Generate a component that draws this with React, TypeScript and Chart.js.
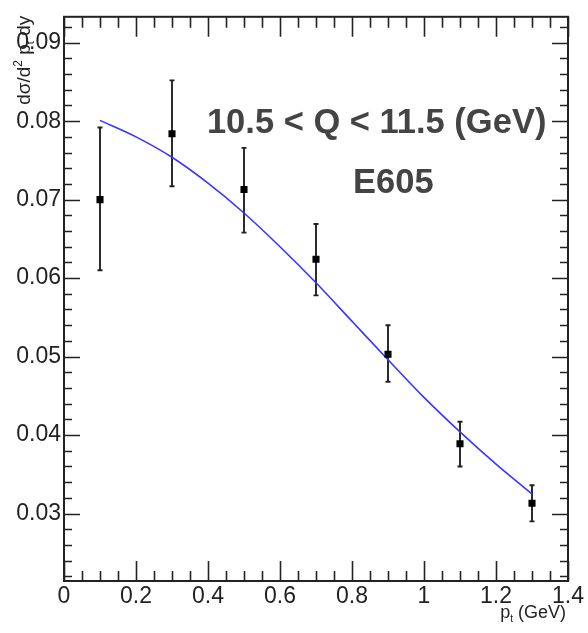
import React, { useEffect, useRef } from "react";
import { Chart, registerables } from "chart.js";

Chart.register(...registerables);

// ---- data ----
const pointX = [0.1, 0.3, 0.5, 0.7, 0.9, 1.1, 1.3];
const pointY = [0.07, 0.0784, 0.0713, 0.0624, 0.0503, 0.0389, 0.0313];
const errLow = [0.061, 0.0717, 0.0658, 0.0578, 0.0468, 0.036, 0.029];
const errHigh = [0.0792, 0.0852, 0.0766, 0.0669, 0.054, 0.0417, 0.0336];

const curveX = [0.1, 0.2, 0.3, 0.4, 0.5, 0.6, 0.7, 0.8, 0.9, 1.0, 1.1, 1.2, 1.3];
const curveY = [0.0801, 0.078, 0.0754, 0.0721, 0.0683, 0.064, 0.0594, 0.0545, 0.0496, 0.0448, 0.0404, 0.0363, 0.0325];

const xTicks = [0, 0.2, 0.4, 0.6, 0.8, 1.0, 1.2, 1.4];
const xTickLabels = ["0", "0.2", "0.4", "0.6", "0.8", "1", "1.2", "1.4"];
const yTicks = [0.03, 0.04, 0.05, 0.06, 0.07, 0.08, 0.09];
const yTickLabels = ["0.03", "0.04", "0.05", "0.06", "0.07", "0.08", "0.09"];

const xMin = 0;
const xMax = 1.4;
const yMin = 0.0214;
const yMax = 0.0933;
const xMinorStep = 0.05;
const yMinorStep = 0.002;

const labelRange = "10.5 < Q < 11.5 (GeV)";
const labelExp = "E605";

const FONT = "'Liberation Sans', Arial, Helvetica, sans-serif";
const AXIS_COLOR = "#222";

function drawPieces(ctx: CanvasRenderingContext2D, pieces: [string, number, number][], x0: number, y0: number) {
  let x = x0;
  for (const [t, size, dy] of pieces) {
    ctx.font = `${size}px ${FONT}`;
    ctx.fillText(t, x, y0 + dy);
    x += ctx.measureText(t).width;
  }
  return x - x0;
}
function measurePieces(ctx: CanvasRenderingContext2D, pieces: [string, number, number][]) {
  let w = 0;
  for (const [t, size] of pieces) {
    ctx.font = `${size}px ${FONT}`;
    w += ctx.measureText(t).width;
  }
  return w;
}

const rootPlugin = {
  id: "rootStyle",
  beforeDatasetsDraw(chart: any) {
    const { ctx, scales } = chart;
    const x = scales.x;
    const y = scales.y;
    ctx.save();
    ctx.strokeStyle = AXIS_COLOR;
    ctx.lineWidth = 1.9;
    for (let i = 0; i < pointX.length; i++) {
      const px = x.getPixelForValue(pointX[i]);
      const lo = y.getPixelForValue(errLow[i]);
      const hi = y.getPixelForValue(errHigh[i]);
      ctx.beginPath();
      ctx.moveTo(px, lo);
      ctx.lineTo(px, hi);
      ctx.moveTo(px - 2.5, lo);
      ctx.lineTo(px + 2.5, lo);
      ctx.moveTo(px - 2.5, hi);
      ctx.lineTo(px + 2.5, hi);
      ctx.stroke();
    }
    ctx.restore();
  },
  afterDraw(chart: any) {
    const { ctx, chartArea: a, scales } = chart;
    const x = scales.x;
    const y = scales.y;
    ctx.save();
    ctx.strokeStyle = AXIS_COLOR;
    ctx.lineWidth = 1.6;
    // x ticks (bottom and top, inward)
    const nx = Math.round((xMax - xMin) / xMinorStep);
    for (let i = 0; i <= nx; i++) {
      const v = xMin + i * xMinorStep;
      const major = xTicks.some((t) => Math.abs(t - v) < 1e-6);
      const px = Math.round(x.getPixelForValue(v)) + 0.5;
      const len = major ? 20 : 10;
      ctx.beginPath();
      ctx.moveTo(px, a.bottom);
      ctx.lineTo(px, a.bottom - len);
      ctx.moveTo(px, a.top);
      ctx.lineTo(px, a.top + (major ? 20 : 11));
      ctx.stroke();
    }
    // y ticks (left and right, inward)
    const yStart = Math.ceil(yMin / yMinorStep - 1e-6);
    const yEnd = Math.floor(yMax / yMinorStep + 1e-6);
    for (let k = yStart; k <= yEnd; k++) {
      const v = k * yMinorStep;
      const major = yTicks.some((t) => Math.abs(t - v) < 1e-6);
      const py = Math.round(y.getPixelForValue(v)) + 0.5;
      const len = major ? 16 : 8;
      ctx.beginPath();
      ctx.moveTo(a.left, py);
      ctx.lineTo(a.left + len, py);
      ctx.moveTo(a.right, py);
      ctx.lineTo(a.right - len, py);
      ctx.stroke();
    }
    // frame
    ctx.lineWidth = 2;
    ctx.strokeRect(a.left, a.top, a.right - a.left, a.bottom - a.top);

    // annotations
    ctx.fillStyle = "#444";
    ctx.textBaseline = "alphabetic";
    ctx.textAlign = "left";
    ctx.font = `bold 34.5px ${FONT}`;
    ctx.fillText(labelRange, x.getPixelForValue(0.397), y.getPixelForValue(0.0785));
    ctx.fillText(labelExp, x.getPixelForValue(0.803), y.getPixelForValue(0.0708));

    // x-axis title
    ctx.fillStyle = "#222";
    const xt: [string, number, number][] = [["p", 18, 0], ["t", 10, 4], [" (GeV)", 18, 0]];
    const wx = measurePieces(ctx, xt);
    drawPieces(ctx, xt, a.right - 2 - wx, 618);

    // y-axis title (rotated)
    const yt: [string, number, number][] = [["dσ/d", 19, 0], ["2", 12, -8], [" p", 19, 0], ["t", 11, 4], [" dy", 19, 0]];
    const wy = measurePieces(ctx, yt);
    ctx.translate(30, a.top - 1 + wy);
    ctx.rotate(-Math.PI / 2);
    drawPieces(ctx, yt, 0, 0);
    ctx.restore();
  },
};

export default function App() {
  const ref = useRef<HTMLCanvasElement | null>(null);
  useEffect(() => {
    document.body.style.margin = "0";
    const canvas = ref.current;
    if (!canvas) return;
    const chart = new Chart(canvas, {
      type: "scatter",
      data: {
        datasets: [
          {
            type: "line",
            label: "fit",
            data: curveX.map((v, i) => ({ x: v, y: curveY[i] })),
            borderColor: "rgb(55,55,255)",
            borderWidth: 1.6,
            pointRadius: 0,
            fill: false,
            cubicInterpolationMode: "monotone",
            order: 2,
          } as any,
          {
            label: "E605",
            data: pointX.map((v, i) => ({ x: v, y: pointY[i] })),
            pointStyle: "rect",
            pointRadius: 5,
            backgroundColor: "#000",
            borderColor: "#000",
            borderWidth: 0,
            showLine: false,
            order: 1,
          },
        ],
      },
      options: {
        animation: false,
        responsive: false,
        devicePixelRatio: 1,
        layout: { padding: { left: 0, top: 13, right: 20, bottom: 0 } },
        plugins: {
          legend: { display: false },
          tooltip: { enabled: false },
          title: { display: false },
        },
        scales: {
          x: {
            type: "linear",
            min: xMin,
            max: xMax,
            grid: { display: false, drawTicks: false },
            border: { display: false },
            afterBuildTicks: (s: any) => {
              s.ticks = xTicks.map((v) => ({ value: v }));
            },
            afterFit: (s: any) => {
              s.height = 52;
            },
            ticks: {
              padding: 2,
              autoSkip: false,
              maxRotation: 0,
              color: "#222",
              font: { family: FONT, size: 23 },
              callback: (v: any) => {
                const i = xTicks.findIndex((t) => Math.abs(t - v) < 1e-6);
                return i >= 0 ? xTickLabels[i] : "";
              },
            },
          },
          y: {
            type: "linear",
            min: yMin,
            max: yMax,
            grid: { display: false, drawTicks: false },
            border: { display: false },
            afterBuildTicks: (s: any) => {
              s.ticks = yTicks.map((v) => ({ value: v }));
            },
            afterFit: (s: any) => {
              s.width = 64;
            },
            ticks: {
              padding: 3,
              autoSkip: false,
              color: "#222",
              font: { family: FONT, size: 23 },
              callback: (v: any) => {
                const i = yTicks.findIndex((t) => Math.abs(t - v) < 1e-6);
                return i >= 0 ? yTickLabels[i] : "";
              },
            },
          },
        },
      } as any,
      plugins: [rootPlugin],
    });
    return () => chart.destroy();
  }, []);
  return (
    <div style={{ width: 588, height: 633, background: "#fff" }}>
      <canvas ref={ref} width={588} height={633} style={{ display: "block" }} />
    </div>
  );
}
